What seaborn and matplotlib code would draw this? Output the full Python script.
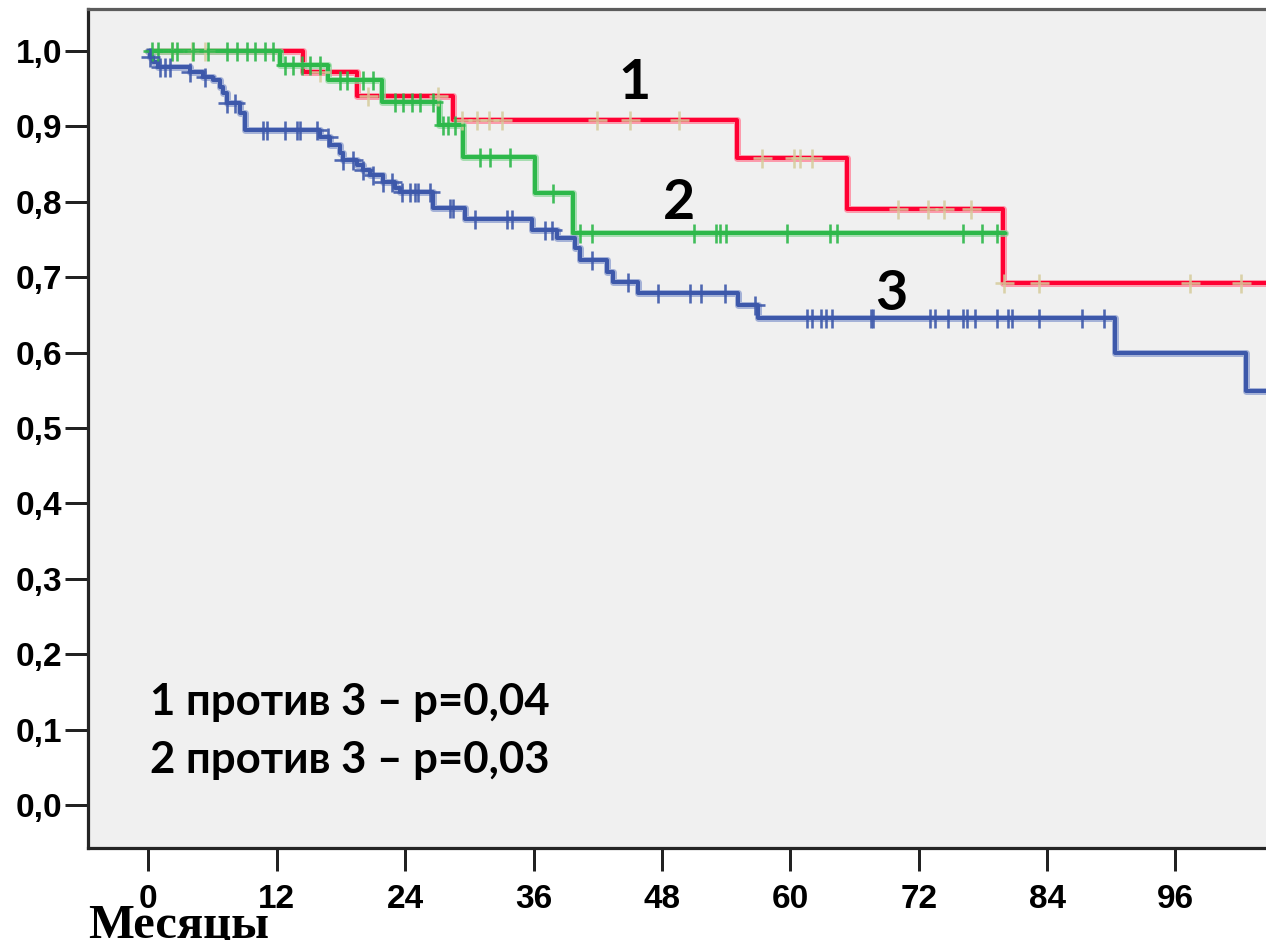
import numpy as np
import pandas as pd
import matplotlib
matplotlib.use("Agg")
import matplotlib.pyplot as plt
import seaborn as sns

# ---------------- data ----------------
# group 1 (red)
g1_times = [0.0, 14.5, 19.5, 28.5, 55.0, 65.3, 79.9]
g1_surv = [1.0, 0.9725, 0.940, 0.9085, 0.858, 0.791, 0.6925]
g1_end = 104.6
g1_cens = [2.2, 4.1, 5.3, 16.0, 20.5, 27.1, 29.3, 30.7, 31.8, 33.1, 41.9, 45.0,
           49.6, 57.4, 60.3, 60.9, 62.0, 70.1, 72.9, 74.4, 76.9, 80.0, 83.2,
           97.4, 102.1]

# group 2 (green)
g2_times = [0.0, 12.3, 16.8, 21.8, 27.2, 29.4, 36.1, 39.7]
g2_surv = [1.0, 0.981, 0.9615, 0.933, 0.902, 0.859, 0.812, 0.758]
g2_end = 80.1
g2_cens = [0.35, 0.9, 2.2, 2.7, 4.2, 5.6, 7.4, 8.3, 9.2, 10.0, 10.9, 11.7,
           12.8, 13.5, 14.4, 15.1, 16.0, 17.9, 18.6, 20.1, 21.0, 23.1, 23.8,
           24.6, 25.4, 26.6, 27.5, 28.0, 28.7, 31.0, 31.9, 33.8, 37.8, 40.3,
           41.5, 51.0, 53.1, 53.4, 54.0, 59.7, 63.7, 64.4, 76.1, 77.9, 79.3]

# group 3 (blue)
g3_times = [0.0, 0.2, 0.45, 0.9, 3.9, 5.1, 6.0, 6.7, 7.0, 7.35, 8.6, 9.0, 16.0,
            17.0, 17.9, 18.2, 19.5, 20.1, 20.7, 21.9, 23.1, 23.5, 26.6, 29.6,
            35.9, 38.2, 39.9, 40.3, 42.9, 43.4, 45.8, 55.1, 57.0, 90.3, 102.6]
g3_surv = [1.0, 0.992, 0.985, 0.979, 0.972, 0.966, 0.962, 0.952, 0.944, 0.931,
           0.918, 0.895, 0.886, 0.875, 0.865, 0.855, 0.849, 0.842, 0.836, 0.826,
           0.818, 0.813, 0.792, 0.777, 0.763, 0.752, 0.739, 0.723, 0.707, 0.694,
           0.679, 0.663, 0.646, 0.5995, 0.549]
g3_end = 104.6
g3_cens = [0.2, 1.1, 1.6, 2.0, 3.9, 5.3, 7.4, 8.1, 10.7, 11.1, 12.8, 13.9, 14.2,
           15.8, 16.8, 18.2, 19.1, 20.1, 21.0, 21.9, 22.8, 23.7, 24.5, 24.9,
           25.2, 26.3, 28.2, 28.5, 30.5, 33.5, 34.0, 37.1, 37.7, 41.5, 44.8,
           47.6, 50.6, 51.7, 53.9, 56.7, 61.6, 62.0, 62.9, 63.3, 63.9, 67.5,
           67.7, 73.1, 73.5, 74.7, 76.1, 76.5, 77.3, 79.3, 80.3, 80.7, 83.2,
           87.3, 89.3]

x_ticks = [0, 12, 24, 36, 48, 60, 72, 84, 96]
y_ticks = [0.0, 0.1, 0.2, 0.3, 0.4, 0.5, 0.6, 0.7, 0.8, 0.9, 1.0]
y_tick_labels = ["0,0", "0,1", "0,2", "0,3", "0,4", "0,5", "0,6", "0,7", "0,8", "0,9", "1,0"]
curve_labels = ["1", "2", "3"]
x_label = "Месяцы"
stat_lines = ["1 против 3 – p=0,04", "2 против 3 – p=0,03"]

# ---------------- figure ----------------
sns.set_style("ticks")
plt.rcParams["font.family"] = ["Liberation Sans", "DejaVu Sans"]

W, H = 1266, 940
fig = plt.figure(figsize=(W / 100, H / 100), dpi=100)
fig.patch.set_facecolor("white")
left_px, right_px, top_px, bottom_px = 88, 1268, 9, 848
ax = fig.add_axes([left_px / W, (H - bottom_px) / H,
                   (right_px - left_px) / W, (bottom_px - top_px) / H])
ax.set_facecolor("#f0f0f0")


def step_frame(times, surv, end):
    t = list(times) + [end]
    s = list(surv) + [surv[-1]]
    return pd.DataFrame({"t": t, "s": s})


def cens_frame(times, surv, cens):
    idx = np.searchsorted(np.asarray(times), np.asarray(cens), side="right") - 1
    return pd.DataFrame({"t": cens, "s": np.asarray(surv)[idx]})


groups = [
    (g1_times, g1_surv, g1_end, g1_cens, "#ff0033", "#ff7f95", "#d6cc9c", 0.85),
    (g2_times, g2_surv, g2_end, g2_cens, "#2db84a", "#8fd79c", "#2db84a", 0.9),
    (g3_times, g3_surv, g3_end, g3_cens, "#3d58aa", "#8c9dcf", "#3d58aa", 0.9),
]

px = 0.72  # points per pixel at dpi 100
for times, surv, end, cens, core, halo, mcol, malpha in groups:
    df = step_frame(times, surv, end)
    sns.lineplot(data=df, x="t", y="s", ax=ax, color=halo, lw=7 * px,
                 drawstyle="steps-post", estimator=None, sort=False, alpha=0.75)
    sns.lineplot(data=df, x="t", y="s", ax=ax, color=core, lw=4 * px,
                 drawstyle="steps-post", estimator=None, sort=False)
    cf = cens_frame(times, surv, cens)
    sns.scatterplot(data=cf, x="t", y="s", ax=ax, marker="+", color=mcol,
                    s=(19 * px) ** 2, linewidth=2.6 * px, alpha=malpha, zorder=5)

# axes limits: 0 month at x=148.3 px, 10.7 px per month; 1.0 at y=51, 0.0 at y=805
x0_px, px_per_month = 148.3, 10.7
ax.set_xlim((left_px - x0_px) / px_per_month, (right_px - x0_px) / px_per_month)
y1_px, y0_px = 51, 805
ax.set_ylim(-(bottom_px - y0_px) / (y0_px - y1_px), 1 + (y1_px - top_px) / (y0_px - y1_px))

ax.set_xticks(x_ticks)
ax.set_xticklabels([str(v) for v in x_ticks])
ax.set_yticks(y_ticks)
ax.set_yticklabels(y_tick_labels)
ax.set_xlabel("")
ax.set_ylabel("")

for lab in ax.get_xticklabels() + ax.get_yticklabels():
    lab.set_fontfamily(["Liberation Sans", "DejaVu Sans"])
    lab.set_fontweight("bold")
    lab.set_fontsize(24)
    lab.set_color("black")

ax.tick_params(axis="both", length=23 * px, width=3 * px, color="#222222")
ax.tick_params(axis="x", pad=9)
ax.tick_params(axis="y", pad=2)

for side in ["left", "bottom"]:
    ax.spines[side].set_color("#252525")
    ax.spines[side].set_linewidth(3.2 * px)
ax.spines["top"].set_color("#5c5c5c")
ax.spines["top"].set_linewidth(3.2 * px)
ax.spines["right"].set_visible(False)

# curve labels
lab_font = ["Lato", "DejaVu Sans"]
for txt, (xm, ys) in zip(curve_labels, [(45.4, 0.9576), (49.6, 0.7984), (69.4, 0.678)]):
    ax.text(xm, ys, txt, ha="center", va="center", fontsize=40, fontweight="bold",
            family=lab_font, color="black", zorder=10)

# statistics text
fig.text(150 / W, 1 - 715 / H, stat_lines[0], ha="left", va="baseline",
         fontsize=31.5, fontweight="bold", family=lab_font, color="black")
fig.text(150 / W, 1 - 773 / H, stat_lines[1], ha="left", va="baseline",
         fontsize=31.5, fontweight="bold", family=lab_font, color="black")

# x label
fig.text(88 / W, 1 - 937 / H, x_label, ha="left", va="baseline",
         fontsize=35, fontweight="bold", family=["Liberation Serif", "DejaVu Serif"],
         color="black")

fig.savefig("out.png", dpi=100, facecolor="white")
